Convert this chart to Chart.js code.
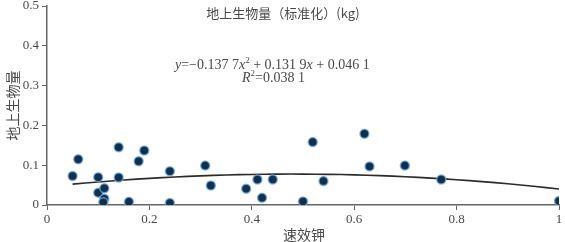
<!DOCTYPE html>
<html>
<head>
<meta charset="utf-8">
<script src="https://cdn.jsdelivr.net/npm/chart.js@4"></script>
<style>
  html, body { margin: 0; padding: 0; background: #fff; }
  #box { width: 565px; height: 242px; }
</style>
</head>
<body>
<div id="box"><canvas id="grafik"></canvas></div>
<script>
// 速效钾 (x) and 地上生物量 (y)
const kaliumX = [0.05, 0.061, 0.10, 0.10, 0.112, 0.112, 0.11, 0.14, 0.14, 0.16, 0.179, 0.19,
  0.24, 0.24, 0.309, 0.32, 0.389, 0.411, 0.42, 0.441, 0.50, 0.519, 0.54, 0.62, 0.63, 0.699, 0.77, 1.0];
const biomassaY = [0.073, 0.115, 0.070, 0.031, 0.042, 0.016, 0.007, 0.145, 0.069, 0.008, 0.110, 0.137,
  0.085, 0.005, 0.099, 0.049, 0.041, 0.064, 0.018, 0.064, 0.009, 0.158, 0.060, 0.179, 0.097, 0.099, 0.064, 0.010];

// fitted curve as drawn
const trendX = [0.05, 0.1, 0.15, 0.2, 0.25, 0.3, 0.35, 0.4, 0.45, 0.5, 0.55, 0.6, 0.65, 0.7, 0.75, 0.8, 0.85, 0.9, 0.95, 1.0];
const trendY = [0.0524, 0.0579, 0.0628, 0.0670, 0.0705, 0.0733, 0.0754, 0.0768, 0.0776, 0.0776, 0.0770, 0.0757,
  0.0737, 0.0710, 0.0676, 0.0635, 0.0587, 0.0533, 0.0471, 0.0403];

const xTicks = [0, 0.2, 0.4, 0.6, 0.8, 1];
const yTicks = [0, 0.1, 0.2, 0.3, 0.4, 0.5];

const judul = "地上生物量（标准化）(kg)";
const judulX = "速效钾";
const judulY = "地上生物量";

const cjk = '"Noto Sans CJK SC", sans-serif';
const serif = '"Liberation Serif", "DejaVu Serif", serif';
const warnaTeks = "#4a4a4a";

// texts placed around the plot
const teksPlugin = {
  id: "teks",
  afterDraw(chart) {
    const c = chart.ctx;
    const area = chart.chartArea;
    c.save();
    c.fillStyle = warnaTeks;
    c.textBaseline = "middle";

    c.font = "13px " + cjk;
    c.textAlign = "center";
    c.fillText(judul, 283, 13);

    c.font = "14px " + cjk;
    c.fillText(judulX, 304, 235);

    c.save();
    c.translate(13, (area.top + area.bottom) / 2);
    c.rotate(-Math.PI / 2);
    c.fillText(judulY, 0, 0);
    c.restore();

    // equation
    c.textAlign = "left";
    let x = 175;
    const y1 = 65;
    const part = (t, italic) => {
      c.font = (italic ? "italic " : "") + "14px " + serif;
      c.fillText(t, x, y1);
      x += c.measureText(t).width;
    };
    part("y", true);
    part("=\u22120.137 7", false);
    part("x", true);
    c.font = "9px " + serif;
    c.fillText("2", x, y1 - 4);
    x += c.measureText("2").width;
    part(" + 0.131 9", false);
    part("x", true);
    part(" + 0.046 1", false);

    x = 242;
    const y2 = 78;
    c.font = "italic 14px " + serif;
    c.fillText("R", x, y2);
    x += c.measureText("R").width;
    c.font = "9px " + serif;
    c.fillText("2", x, y2 - 4);
    x += c.measureText("2").width;
    c.font = "14px " + serif;
    c.fillText("=0.038 1", x, y2);
    c.restore();
  }
};

const ctx = document.getElementById("grafik").getContext("2d");
new Chart(ctx, {
  type: "scatter",
  data: {
    datasets: [
      {
        label: "trend",
        type: "line",
        data: trendX.map((v, i) => ({ x: v, y: trendY[i] })),
        borderColor: "#2b2b2b",
        borderWidth: 1.6,
        pointRadius: 0,
        tension: 0.4,
        fill: false,
        order: 2,
      },
      {
        label: "data",
        data: kaliumX.map((v, i) => ({ x: v, y: biomassaY[i] })),
        backgroundColor: "#12304c",
        borderColor: "rgba(110, 170, 225, 0.75)",
        borderWidth: 1.5,
        pointRadius: 4.5,
        order: 1,
      },
    ],
  },
  options: {
    responsive: true,
    maintainAspectRatio: false,
    animation: false,
    layout: { padding: { top: 5, right: 5, left: 0, bottom: 0 } },
    plugins: {
      legend: { display: false },
      tooltip: { enabled: false },
    },
    scales: {
      x: {
        type: "linear",
        min: 0,
        max: 1,
        afterFit(s) {
          s.height = 37;
          s.paddingLeft = 0;
          s.paddingRight = 0;
        },
        afterBuildTicks(s) { s.ticks = xTicks.map((v) => ({ value: v })); },
        grid: { drawOnChartArea: false, drawTicks: true, tickLength: 5, color: "#666" },
        border: { display: true, color: "#666", width: 1.5 },
        ticks: {
          color: warnaTeks,
          font: { family: serif, size: 13 },
          padding: 2,
          maxRotation: 0,
          callback: (v) => String(v),
        },
      },
      y: {
        type: "linear",
        min: 0,
        max: 0.5,
        afterFit(s) {
          s.width = 47;
          s.paddingTop = 0;
          s.paddingBottom = 0;
        },
        afterBuildTicks(s) { s.ticks = yTicks.map((v) => ({ value: v })); },
        grid: { drawOnChartArea: false, drawTicks: true, tickLength: 5, color: "#666" },
        border: { display: true, color: "#666", width: 1.5 },
        ticks: {
          color: warnaTeks,
          font: { family: serif, size: 13 },
          padding: 3,
          callback: (v) => String(v),
        },
      },
    },
  },
  plugins: [teksPlugin],
});
</script>
</body>
</html>
